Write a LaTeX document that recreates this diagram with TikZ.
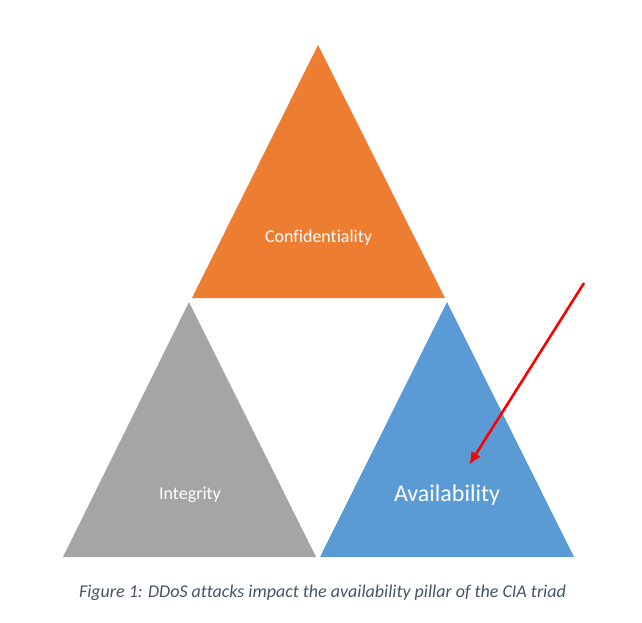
\documentclass[tikz,border=0pt]{standalone}
\usepackage{fontspec}
\setmainfont[Ligatures=NoCommon]{Carlito}
\usetikzlibrary{arrows.meta}
\definecolor{cOrange}{HTML}{ED7D31}
\definecolor{cGrey}{HTML}{A5A5A5}
\definecolor{cBlue}{HTML}{5B9BD5}
\definecolor{cCap}{HTML}{44546A}
\begin{document}
\begin{tikzpicture}[x=1pt,y=-1pt,
  lbl/.style={text=white,inner sep=0pt},
  arr/.style={draw=red,line width=2.6pt,-{Latex[length=13pt,width=11pt]}}]
\useasboundingbox (0,0) rectangle (642,622);
\fill[cOrange] (318,45) -- (192,298) -- (445,298) -- cycle;
\fill[cGrey] (189,302) -- (63,557) -- (316,557) -- cycle;
\fill[cBlue] (447,302) -- (320,557) -- (574,557) -- cycle;
\node[lbl,font=\fontsize{18}{20}\selectfont] (conf) at (318.5,238) {Confidentiality};
\node[lbl,font=\fontsize{18}{20}\selectfont] (integ) at (190,495) {Integrity};
\node[lbl,font=\fontsize{24}{28}\selectfont] (avail) at (447,495) {Availability};
\node[text=cCap,font=\fontsize{18}{20}\selectfont\itshape] (cap) at (322.5,593) {Figure 1: DDoS attacks impact the availability pillar of the CIA triad};
\coordinate (a0) at (584,283);
\coordinate (a1) at (469,465);
\draw[arr] (a0) -- (a1);
\end{tikzpicture}
\end{document}
